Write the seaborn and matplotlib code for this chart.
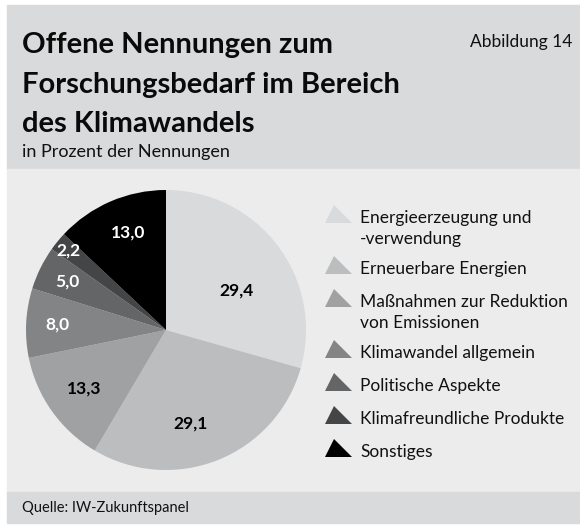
import numpy as np
import matplotlib
matplotlib.use("Agg")
import matplotlib.pyplot as plt
from matplotlib.patches import Rectangle, Polygon
import seaborn as sns

# ---- data ----
categories = ["Energieerzeugung und\n-verwendung", "Erneuerbare Energien",
              "Maßnahmen zur Reduktion\nvon Emissionen", "Klimawandel allgemein",
              "Politische Aspekte", "Klimafreundliche Produkte", "Sonstiges"]
values = [29.4, 29.1, 13.3, 8.0, 5.0, 2.2, 13.0]
value_labels = ["29,4", "29,1", "13,3", "8,0", "5,0", "2,2", "13,0"]
title_lines = ["Offene Nennungen zum", "Forschungsbedarf im Bereich", "des Klimawandels"]

colors = ["#d9dadb", "#bcbdbf", "#a0a1a3", "#838486", "#646567", "#444547", "#000000"]
label_colors = ["black", "black", "black", "white", "white", "white", "white"]
label_dist = [0.58, 0.69, 0.72, 0.78, 0.79, 0.90, 0.75]
label_shift = [-8, -7, 0, 0, 0, 0, -2]

sns.set_theme(style="white")
plt.rcParams["font.family"] = ["Lato", "DejaVu Sans"]

W, H = 580, 525
fig = plt.figure(figsize=(W / 100, H / 100), dpi=100)
fig.patch.set_facecolor("white")

def fx(x):
    return x / W

def fy(y):
    return 1 - y / H

# background bands
for y0, y1, c in [(5, 169, "#d9dadb"), (169, 492, "#ececec"), (492, 523, "#d9dadb")]:
    fig.patches.append(Rectangle((fx(7), fy(y1)), 1 - fx(7), (y1 - y0) / H,
                                 transform=fig.transFigure, color=c, zorder=-5))

# header texts
for i, line in enumerate(title_lines):
    fig.text(fx(22), fy(53 + 39.5 * i), line, fontsize=21, fontweight="bold",
             va="baseline", ha="left", color="#0a0a0a")
fig.text(fx(572), fy(47), "Abbildung 14", fontsize=12.5, ha="right", va="baseline",
         color="#111111")
fig.text(fx(22), fy(157), "in Prozent der Nennungen", fontsize=13, ha="left", va="baseline",
         color="#111111")
fig.text(fx(22), fy(512), "Quelle: IW-Zukunftspanel", fontsize=10.5, ha="left", va="baseline",
         color="#111111")

# pie
cx, cy, r = 166, 330, 140
ax = fig.add_axes([fx(cx - r), fy(cy + r), 2 * r / W, 2 * r / H])
wedges, _ = ax.pie(values, colors=colors, startangle=90, counterclock=False,
                   wedgeprops=dict(linewidth=0), radius=1)
ax.set_xlim(-1, 1)
ax.set_ylim(-1, 1)
ax.set_aspect("equal")
ax.axis("off")
for w, lab, c, d, s in zip(wedges, value_labels, label_colors, label_dist, label_shift):
    ang = np.deg2rad((w.theta1 + w.theta2) / 2 + s)
    ax.text(d * np.cos(ang), d * np.sin(ang), lab, ha="center", va="center",
            fontsize=12.5, fontweight="bold", color=c)

# legend (manual)
lax = fig.add_axes([0, 0, 1, 1], facecolor="none")
lax.set_xlim(0, W)
lax.set_ylim(H, 0)
lax.axis("off")
base = 223
for cat, col in zip(categories, colors):
    lines = cat.split("\n")
    tri = Polygon([(325, base), (352, base), (334, base - 18)], closed=True,
                  facecolor=col, edgecolor="none")
    lax.add_patch(tri)
    for j, ln in enumerate(lines):
        lax.text(360, base + 21 * j, ln, fontsize=12.5, ha="left", va="baseline",
                 color="#111111")
    base += 33 + 18 * (len(lines) - 1)

fig.savefig("out.png", dpi=100)
